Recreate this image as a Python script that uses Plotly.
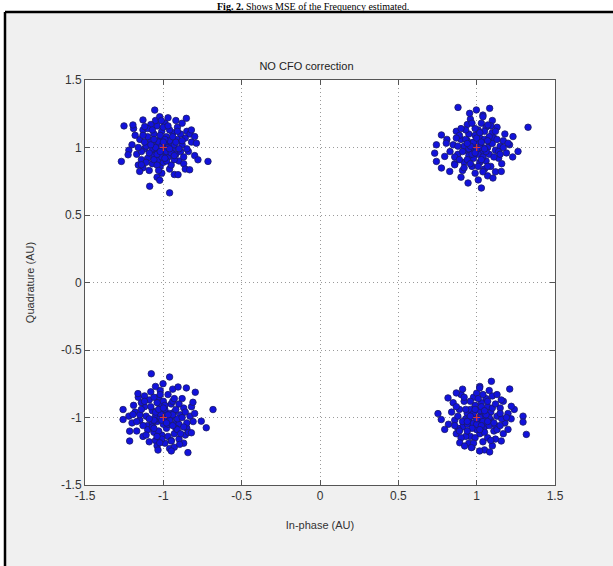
import plotly.graph_objects as go

# ---- data ----
cluster_a = [(-1.00,1.00),(-0.95,1.03),(-1.05,0.97),(-0.98,1.08),(-1.08,1.05),(-0.92,0.95),(-1.03,0.91),
    (-0.97,0.93),(-1.12,0.99),(-0.88,1.02),(-1.01,1.12),(-1.06,1.10),(-0.94,1.11),(-1.10,0.92),(-0.90,0.90),
    (-1.15,1.06),(-0.86,1.07),(-1.02,0.86),(-0.96,0.84),(-1.07,0.88),(-1.17,0.95),(-0.84,0.97),(-1.04,1.16),
    (-0.99,1.18),(-1.13,1.13),(-0.91,1.15),(-0.87,0.88),(-1.20,1.02),(-0.82,1.04),(-1.09,0.83),(-0.93,0.80),
    (-1.00,0.95),(-1.04,1.02),(-0.96,1.05),(-1.02,1.06),(-0.98,0.97),(-1.06,0.94),(-0.94,0.99),(-1.11,1.01),
    (-0.89,0.97),(-1.14,0.91),(-1.18,1.09),(-0.85,1.12),(-1.00,0.89),(-1.05,1.20),(-0.97,1.22),(-1.16,0.87),
    (-0.80,0.94),(-1.22,0.98),(-0.83,1.10),(-1.08,1.17),(-0.95,0.87),(-1.01,0.81),(-1.10,1.08),(-0.91,1.06),
    (-1.03,0.99),(-0.99,1.02),(-1.07,0.99),(-0.93,1.02),(-1.19,1.14),(-0.88,1.18),(-1.13,0.85),(-0.86,0.84),
    (-1.04,0.78),(-0.92,1.20),
    (-0.97,1.00),(-1.03,1.04),(-1.01,0.93),(-0.99,1.06),(-1.05,1.00),(-0.95,0.96),(-1.08,1.02),(-0.92,1.04),
    (-1.02,1.09),(-0.98,0.90),(-1.09,0.96),(-0.94,1.08),(-1.06,0.91),(-0.90,0.99),(-1.12,1.04),(-0.96,1.13),
    (-1.04,0.87),(-0.89,1.10),(-1.14,0.97),(-1.00,1.15),(-0.85,0.99),(-1.10,1.14),(-0.93,0.91),(-1.07,1.13),
    (-1.16,1.00),(-0.87,0.93),(-1.03,0.83),(-0.97,1.16),(-1.11,0.89),(-0.91,1.12),(-1.01,1.01),(-0.96,0.99),
    (-1.04,0.95),(-0.99,0.92),(-1.06,1.06),(-0.93,0.94),(-1.13,1.09),(-0.88,1.05),(-1.00,1.04),(-1.02,0.97),
    (-1.055,1.277),(-1.023,1.228),(-1.013,1.199),(-0.853,1.216),(-1.251,1.160),(-1.194,1.167),(-1.130,1.204),
    (-1.119,1.155),(-1.268,0.897),(-0.715,0.897),(-1.225,0.946),(-1.087,0.713),(-0.960,0.664),(-1.023,0.757),
    (-0.906,0.799),(-0.832,0.835),(-0.779,0.909),(-0.821,1.130),(-0.800,1.081),(-0.789,1.032),(-1.151,0.823),
    (-1.140,0.872)]

cluster_b = [(1.00,1.00),(1.04,0.97),(0.96,1.03),(1.02,1.07),(0.93,0.98),(1.08,1.04),(0.98,0.92),(1.06,0.90),
    (0.90,1.06),(1.12,0.98),(1.01,1.13),(0.95,1.10),(1.10,1.11),(0.88,0.95),(1.14,0.92),(0.97,0.86),(1.05,0.84),
    (0.92,0.89),(1.17,1.05),(0.85,1.02),(1.03,1.18),(0.94,1.17),(1.13,1.15),(1.19,0.96),(0.87,1.12),(1.09,0.86),
    (0.99,0.81),(1.07,0.79),(0.91,0.83),(1.21,1.02),(0.83,0.97),(1.00,1.04),(1.03,1.01),(0.97,0.97),(1.05,1.06),
    (0.95,0.94),(1.08,0.95),(0.92,1.01),(1.11,1.07),(0.89,1.09),(1.15,1.01),(1.02,0.89),(0.96,1.21),(1.10,1.20),
    (1.18,1.10),(0.86,0.88),(1.06,1.15),(1.16,0.88),(0.99,1.09),(1.01,0.95),(0.94,1.05),(1.07,1.00),(1.12,0.82),
    (0.81,1.06),(1.23,0.93),(1.04,1.24),(0.90,0.78),(1.01,0.76),(0.93,1.13),(1.14,0.97),
    (1.02,1.00),(0.98,1.04),(1.04,0.93),(1.00,1.07),(0.95,0.99),(1.06,0.97),(0.97,0.95),(1.08,1.08),(0.93,1.06),
    (1.03,0.91),(0.91,0.97),(1.10,1.03),(0.94,0.91),(1.11,0.93),(0.99,1.14),(1.05,1.12),(0.88,1.01),(1.13,1.06),
    (0.96,0.88),(1.07,0.86),(0.90,1.14),(1.15,0.95),(1.01,0.86),(0.86,0.93),(1.09,1.16),(0.97,1.18),(1.17,1.00),
    (0.92,0.85),(1.04,0.82),(0.87,1.07),(1.00,0.99),(1.03,1.04),(0.96,1.01),(1.05,0.99),(0.99,0.96),(1.07,1.05),
    (0.94,1.03),(1.12,1.12),(0.89,0.91),(1.02,1.11),
    (0.881,1.297),(0.955,1.253),(0.998,1.278),(1.083,1.290),(1.040,1.228),(1.328,1.150),(0.775,1.093),
    (0.743,1.020),(0.732,0.958),(0.743,0.897),(0.796,0.934),(0.775,0.848),(0.828,0.823),(0.860,0.872),
    (0.945,0.737),(1.030,0.700),(1.104,0.774),(1.157,0.823),(1.264,0.971),(1.232,1.081),(1.200,1.032),
    (1.072,1.167),(0.806,1.032)]

cluster_c = [(-1.00,-1.00),(-0.96,-0.97),(-1.04,-1.03),(-0.98,-1.08),(-1.07,-0.95),(-0.92,-1.04),(-1.02,-0.91),
    (-0.95,-0.90),(-1.10,-1.06),(-0.89,-0.98),(-1.01,-1.13),(-1.06,-1.11),(-0.93,-1.12),(-1.12,-0.92),
    (-0.87,-0.93),(-1.15,-1.02),(-0.85,-1.08),(-1.03,-0.85),(-0.97,-0.83),(-1.09,-0.87),(-1.18,-0.96),
    (-0.83,-0.99),(-1.05,-1.17),(-0.99,-1.19),(-1.13,-1.14),(-0.90,-1.16),(-0.88,-0.86),(-1.20,-1.04),
    (-0.81,-1.03),(-1.08,-0.81),(-0.94,-0.79),(-1.01,-0.96),(-1.03,-1.01),(-0.97,-1.05),(-1.05,-0.99),
    (-0.95,-1.00),(-1.07,-1.04),(-0.93,-0.96),(-1.11,-0.99),(-0.90,-1.05),(-1.14,-0.89),(-1.17,-1.10),
    (-0.86,-1.13),(-1.00,-0.88),(-1.04,-1.21),(-0.96,-1.23),(-1.16,-0.85),(-0.82,-0.92),(-1.22,-0.99),
    (-0.84,-1.11),(-1.09,-1.18),(-0.94,-0.88),(-1.02,-0.80),(-1.10,-1.09),(-0.92,-1.08),(-1.02,-1.00),
    (-0.99,-0.94),(-1.06,-1.02),(-0.91,-1.01),(-1.19,-0.91),(-0.87,-1.19),(-1.12,-0.84),(-0.80,-0.97),
    (-1.05,-0.77),(-0.93,-1.22),
    (-0.98,-1.00),(-1.02,-0.97),(-1.00,-1.05),(-0.96,-1.02),(-1.05,-0.96),(-0.94,-0.98),(-1.07,-1.07),
    (-0.92,-0.94),(-1.03,-1.10),(-0.99,-0.91),(-1.09,-1.01),(-0.91,-1.09),(-1.04,-0.89),(-0.88,-1.00),
    (-1.13,-1.06),(-0.97,-1.14),(-1.06,-0.85),(-0.86,-0.96),(-1.15,-0.98),(-1.01,-1.16),(-0.85,-1.04),
    (-1.11,-1.13),(-0.93,-0.86),(-1.08,-0.92),(-1.17,-1.03),(-0.89,-1.12),(-1.02,-0.83),(-0.95,-1.17),
    (-1.12,-0.88),(-0.90,-0.90),(-1.01,-1.02),(-0.97,-0.98),(-1.03,-0.94),(-0.98,-1.04),(-1.06,-1.08),
    (-0.94,-1.06),(-1.14,-0.94),(-0.87,-1.07),(-1.00,-0.93),(-1.04,-1.14),
    (-1.077,-0.676),(-0.960,-0.700),(-1.002,-0.750),(-0.906,-0.774),(-0.853,-0.781),(-0.796,-0.813),
    (-1.162,-0.823),(-0.683,-0.941),(-1.257,-0.941),(-1.257,-1.015),(-1.194,-0.978),(-0.758,-1.027),
    (-0.726,-1.076),(-1.215,-1.101),(-1.215,-1.174),(-1.034,-1.241),(-1.023,-1.187),(-0.949,-1.174),
    (-0.896,-1.199),(-0.843,-1.260),(-0.949,-1.248),(-0.821,-1.113),(-0.811,-0.887)]

cluster_d = [(1.00,-1.00),(1.03,-0.96),(0.97,-1.04),(1.05,-1.07),(0.94,-0.97),(1.09,-1.02),(0.99,-0.91),
    (1.07,-0.92),(0.91,-1.07),(1.13,-0.99),(1.02,-1.12),(0.96,-1.14),(1.11,-1.10),(0.89,-0.94),(1.15,-0.93),
    (0.98,-0.85),(1.06,-0.86),(0.92,-0.88),(1.18,-1.04),(0.86,-1.02),(1.04,-1.18),(0.95,-1.19),(1.12,-1.16),
    (1.20,-0.97),(0.87,-1.12),(1.10,-0.84),(1.00,-0.82),(1.08,-0.80),(0.90,-0.83),(1.22,-1.01),(0.84,-0.96),
    (1.01,-1.04),(1.04,-1.01),(0.98,-0.98),(1.06,-1.04),(0.96,-0.94),(1.09,-0.96),(0.93,-1.01),(1.12,-1.06),
    (0.88,-1.08),(1.16,-1.01),(1.03,-0.89),(0.97,-1.22),(1.10,-1.21),(1.17,-1.12),(0.85,-0.89),(1.07,-1.15),
    (1.17,-0.88),(1.00,-1.09),(1.02,-0.95),(0.94,-1.05),(1.08,-1.00),(1.13,-0.83),(0.82,-1.05),(1.24,-0.94),
    (1.05,-1.24),(0.91,-0.79),(1.02,-0.77),(0.93,-1.14),(1.15,-0.97),
    (1.02,-1.00),(0.98,-0.97),(1.00,-1.05),(1.04,-1.03),(0.95,-1.01),(1.06,-0.98),(0.97,-1.08),(1.08,-1.06),
    (0.93,-0.94),(1.03,-0.92),(0.91,-1.03),(1.10,-0.93),(0.94,-1.10),(1.11,-1.04),(0.99,-1.15),(1.05,-1.11),
    (0.88,-0.99),(1.13,-1.09),(0.96,-0.88),(1.07,-0.88),(0.90,-1.15),(1.15,-1.06),(1.01,-0.86),(0.86,-1.06),
    (1.09,-1.17),(0.98,-1.19),(1.19,-1.00),(0.92,-0.85),(1.04,-0.83),(0.87,-0.92),(1.00,-1.01),(1.03,-1.06),
    (0.96,-0.99),(1.05,-0.95),(0.99,-0.94),(1.07,-1.03),(0.94,-1.03),(1.12,-0.90),(0.89,-1.10),(1.02,-1.09),
    (1.094,-0.732),(1.211,-0.789),(0.817,-0.855),(0.870,-0.818),(1.019,-0.781),(0.753,-0.971),(0.774,-1.015),
    (1.296,-0.990),(1.296,-1.034),(1.317,-1.125),(0.796,-1.088),(0.892,-1.187),(0.966,-1.223),(1.019,-1.248),
    (1.083,-1.255),(1.157,-1.174),(1.200,-1.088),(1.221,-0.917),(1.157,-0.870),(0.923,-1.211)]

ideal_x = [-1, 1, -1, 1]
ideal_y = [1, 1, -1, -1]

tick_vals = [-1.5, -1, -0.5, 0, 0.5, 1, 1.5]
tick_text = ["-1.5", "-1", "-0.5", "0", "0.5", "1", "1.5"]

# ---- figure ----
W, H = 613, 566
ML, MR, MT, MB = 85, 58, 80, 81

fig = go.Figure()
for pts in (cluster_a, cluster_b, cluster_c, cluster_d):
    fig.add_trace(go.Scatter(
        x=[p[0] for p in pts], y=[p[1] for p in pts], mode="markers",
        marker=dict(size=6.5, color="#1212dc", line=dict(color="#1a1a66", width=0.8)),
        showlegend=False, hoverinfo="x+y"))
fig.add_trace(go.Scatter(
    x=ideal_x, y=ideal_y, mode="markers",
    marker=dict(symbol="cross-thin", size=5, line=dict(color="#d83a3a", width=1.2)),
    showlegend=False))

def px_x(p):
    return (p - ML) / (W - ML - MR)

def px_y(p):
    return (H - MB - p) / (H - MT - MB)

axis_common = dict(
    range=[-1.5, 1.5], tickvals=tick_vals, ticktext=tick_text,
    showgrid=True, gridcolor="#9a9a9a", griddash="1px,3px", gridwidth=1,
    zeroline=False, showline=True, linecolor="#555555", linewidth=1, mirror="ticks",
    ticks="inside", ticklen=5, tickcolor="#555555",
    tickfont=dict(family="Liberation Sans", size=12, color="#333333"),
)

fig.update_layout(
    width=W, height=H,
    margin=dict(l=ML, r=MR, t=MT, b=MB),
    paper_bgcolor="#f0f0f0", plot_bgcolor="white",
    xaxis=dict(**axis_common,
               title=dict(text="In-phase (AU)", font=dict(family="Liberation Sans", size=11, color="#333333"),
                          standoff=18)),
    yaxis=dict(**axis_common,
               title=dict(text="Quadrature (AU)", font=dict(family="Liberation Sans", size=11, color="#333333"),
                          standoff=24)),
    title=dict(text="NO CFO correction", x=0.5, xanchor="center", y=1 - 66 / H, yanchor="middle",
               font=dict(family="Liberation Sans", size=11, color="#222222")),
    shapes=[
        # white page strips outside the black frame
        dict(type="rect", xref="paper", yref="paper", layer="below",
             x0=px_x(-20), x1=px_x(5), y0=px_y(600), y1=px_y(-20),
             fillcolor="white", line=dict(width=0)),
        dict(type="rect", xref="paper", yref="paper", layer="below",
             x0=px_x(-20), x1=px_x(640), y0=px_y(12), y1=px_y(-20),
             fillcolor="white", line=dict(width=0)),
        # black frame (left and top edges)
        dict(type="line", xref="paper", yref="paper",
             x0=px_x(5), x1=px_x(5), y0=px_y(600), y1=px_y(12),
             line=dict(color="black", width=2.5)),
        dict(type="line", xref="paper", yref="paper",
             x0=px_x(5), x1=px_x(640), y0=px_y(12), y1=px_y(12),
             line=dict(color="black", width=2.5)),
    ],
    annotations=[dict(text="<b>Fig. 2.</b> Shows MSE of the Frequency estimated.",
                      xref="paper", yref="paper", x=px_x(313), y=px_y(6.5),
                      xanchor="center", yanchor="middle", showarrow=False, borderpad=0,
                      font=dict(family="Liberation Serif", size=10, color="black"))],
)

fig.write_html("out.html")
